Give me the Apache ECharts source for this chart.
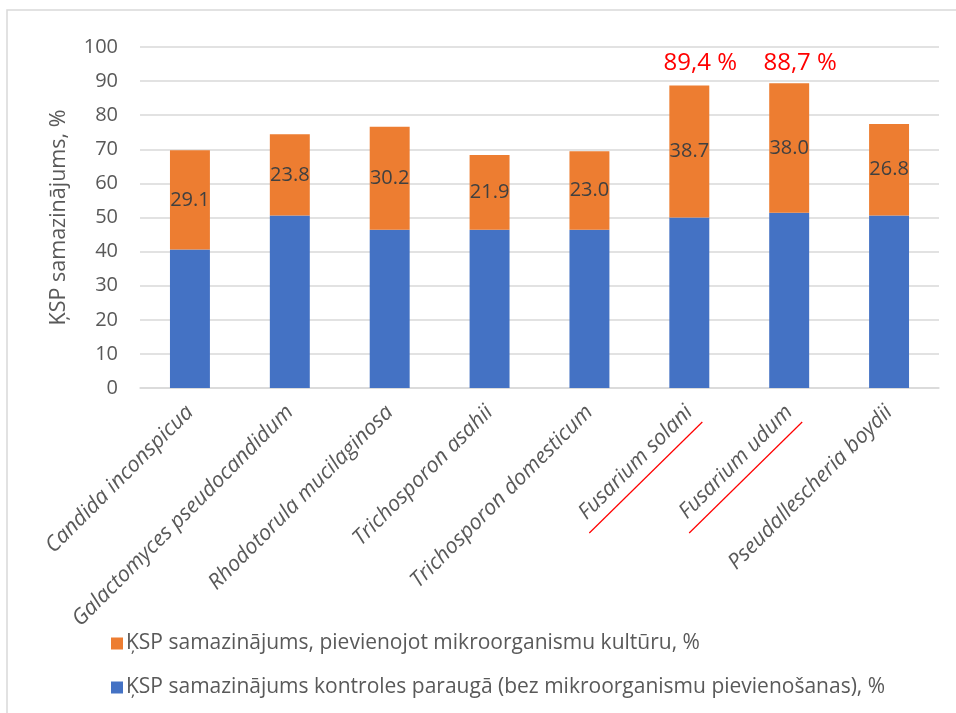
<!DOCTYPE html>
<html>
<head>
<meta charset="utf-8">
<script src="https://cdn.jsdelivr.net/npm/echarts@6/dist/echarts.min.js"></script>
<style>
  html, body { margin: 0; padding: 0; background: #ffffff; }
  #chart { width: 956px; height: 713px; }
</style>
</head>
<body>
<div id="chart"></div>
<script>
// Microorganism cultures on the category axis
const categories = [
  'Candida inconspicua',
  'Galactomyces pseudocandidum',
  'Rhodotorula mucilaginosa',
  'Trichosporon asahii',
  'Trichosporon domesticum',
  'Fusarium solani',
  'Fusarium udum',
  'Pseudallescheria boydii'
];

// COD reduction in the control sample (no microorganisms added), %
const controlValues = [40.6, 50.6, 46.4, 46.4, 46.4, 50.0, 51.4, 50.6];

// Additional COD reduction when the microorganism culture is added, %
const cultureValues = [29.1, 23.8, 30.2, 21.9, 23.0, 38.7, 38.0, 26.8];

// Highlighted cultures with their total-reduction notes
const highlightCategories = ['Fusarium solani', 'Fusarium udum'];
const highlightNotes = ['89,4 %', '88,7 %'];
const highlightNoteLevel = 95.3;

// Value axis ticks
const yTicks = [0, 10, 20, 30, 40, 50, 60, 70, 80, 90, 100];

const seriesNames = [
  'ĶSP samazinājums kontroles paraugā (bez mikroorganismu pievienošanas), %',
  'ĶSP samazinājums, pievienojot mikroorganismu kultūru, %'
];

const FONT = '"Open Sans", "Noto Sans", sans-serif';
const GREY = '#595959';

const chart = echarts.init(document.getElementById('chart'), null, { renderer: 'canvas' });

const option = {
  animation: false,
  backgroundColor: '#ffffff',
  textStyle: { fontFamily: FONT },
  grid: { left: 140, right: 17, top: 47, bottom: 325 },
  legend: {
    orient: 'vertical',
    left: 106,
    top: 628,
    itemWidth: 12,
    itemHeight: 12,
    itemGap: 23,
    icon: 'rect',
    data: [seriesNames[1], seriesNames[0]],
    textStyle: { color: GREY, fontSize: 21, fontFamily: FONT, padding: [0, 0, 0, -2] }
  },
  xAxis: {
    type: 'category',
    data: categories,
    axisLine: { show: true, lineStyle: { color: '#d9d9d9', width: 1.5 } },
    axisTick: { show: false },
    axisLabel: {
      rotate: 45,
      interval: 0,
      margin: 21,
      color: GREY,
      fontSize: 21.5,
      fontStyle: 'italic',
      fontFamily: FONT
    }
  },
  yAxis: {
    type: 'value',
    min: yTicks[0],
    max: yTicks[yTicks.length - 1],
    interval: yTicks[1] - yTicks[0],
    name: 'ĶSP samazinājums, %',
    nameLocation: 'middle',
    nameGap: 70,
    nameTextStyle: { color: GREY, fontSize: 21.5, fontFamily: FONT },
    axisLine: { show: false },
    axisTick: { show: false },
    axisLabel: { color: GREY, fontSize: 20, margin: 22, fontFamily: FONT },
    splitLine: { lineStyle: { color: '#d9d9d9', width: 1.5 } }
  },
  series: [
    {
      name: seriesNames[0],
      type: 'bar',
      stack: 'total',
      barWidth: '40%',
      itemStyle: { color: '#4472C4' },
      data: controlValues
    },
    {
      name: seriesNames[1],
      type: 'bar',
      stack: 'total',
      barWidth: '40%',
      itemStyle: { color: '#ED7D31' },
      label: {
        show: true,
        position: 'inside',
        color: '#404040',
        fontSize: 20,
        fontFamily: FONT,
        formatter: p => p.value.toFixed(1)
      },
      markPoint: {
        symbol: 'rect',
        symbolSize: 0,
        silent: true,
        label: {
          show: true,
          position: 'inside',
          offset: [11, 0],
          color: '#ff0000',
          fontSize: 24,
          fontFamily: FONT,
          formatter: p => p.name
        },
        data: highlightCategories.map((c, i) => ({
          name: highlightNotes[i],
          coord: [c, highlightNoteLevel]
        }))
      },
      data: cultureValues
    }
  ]
};

chart.setOption(option);

// Outer chart frame and red underlines beneath the highlighted axis labels
const graphics = [
  {
    type: 'rect',
    shape: { x: 7, y: 10, width: 960, height: 720 },
    style: { fill: 'none', stroke: '#d9d9d9', lineWidth: 1.5 },
    silent: true
  }
];
highlightCategories.forEach(c => {
  const base = chart.convertToPixel({ xAxisIndex: 0, yAxisIndex: 0 }, [c, 0]);
  graphics.push({
    type: 'line',
    shape: { x1: base[0] - 100, y1: base[1] + 145, x2: base[0] + 13, y2: base[1] + 34 },
    style: { stroke: '#ff0000', lineWidth: 1.2 },
    silent: true
  });
});
chart.setOption({ graphic: graphics });
</script>
</body>
</html>
